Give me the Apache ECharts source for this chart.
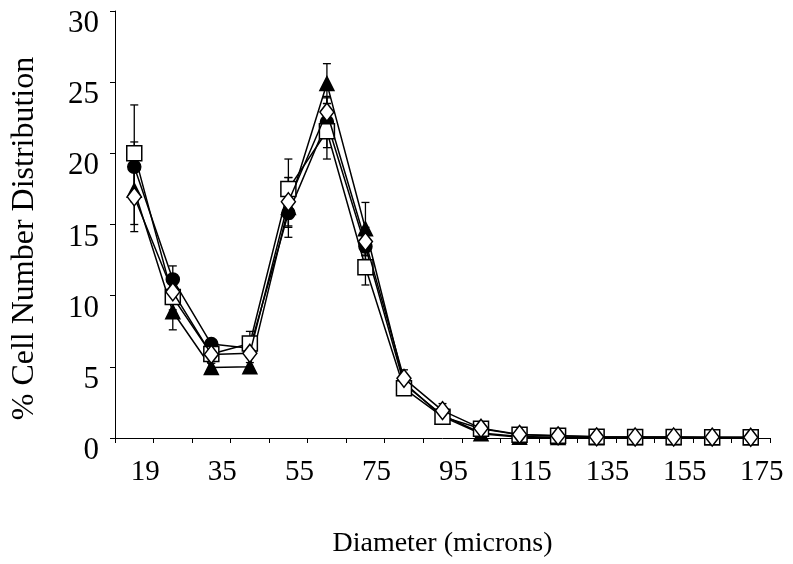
<!DOCTYPE html>
<html>
<head>
<meta charset="utf-8">
<script src="https://cdn.jsdelivr.net/npm/echarts@6/dist/echarts.min.js"></script>
<style>
  html, body { margin: 0; padding: 0; background: #fff; }
  #chart { width: 793px; height: 564px; }
</style>
</head>
<body>
<div id="chart"></div>
<script>
// Diameter classes (microns); every other one is labelled on the axis
const diameters = ['19', '27', '35', '45', '55', '65', '75', '85', '95', '105', '115', '125', '135', '145', '155', '165', '175'];

// % cell number distribution per group
const circleVals   = [19.05, 11.14, 6.6, 6.3, 15.8, 22.2, 13.45, 3.8, 1.6, 0.35, 0.1, 0.05, 0.03, 0.03, 0.02, 0.02, 0.02];
const triangleVals = [17.4, 8.87, 4.95, 5.0, 16.2, 24.9, 14.7, 3.9, 1.5, 0.3, 0.05, 0.03, 0.02, 0.02, 0.02, 0.02, 0.02];
const squareVals   = [20.0, 9.9, 5.9, 6.64, 17.5, 21.55, 12.0, 3.49, 1.5, 0.65, 0.22, 0.15, 0.08, 0.07, 0.07, 0.06, 0.05];
const diamondVals  = [16.95, 10.27, 5.87, 5.95, 16.6, 22.9, 13.8, 4.19, 1.92, 0.68, 0.25, 0.15, 0.08, 0.07, 0.07, 0.06, 0.05];

// symmetric error (± SD)
const circleErr   = [1.75, 0.95, 0.3, 0.3, 1.0, 1.8, 0.9, 0.3, 0.2, 0.1, 0, 0, 0, 0, 0, 0, 0];
const triangleErr = [2.4, 1.27, 0.3, 0.3, 2.1, 1.4, 1.85, 0.4, 0.2, 0.1, 0, 0, 0, 0, 0, 0, 0];
const squareErr   = [3.4, 0.9, 0.5, 0.85, 2.1, 1.95, 1.25, 0.4, 0.3, 0.1, 0, 0, 0, 0, 0, 0, 0];
const diamondErr  = [2.45, 0.8, 0.3, 0.3, 1.7, 1.0, 1.0, 0.6, 0.5, 0.1, 0, 0, 0, 0, 0, 0, 0];

// y axis ticks
const yMin = 0, yMax = 30, yStep = 5;

const FONT = 'Liberation Serif';

function errorSeries(vals, errs) {
  return {
    type: 'custom',
    z: 1,
    silent: true,
    data: vals.map((v, i) => [i, v, errs[i]]),
    renderItem: function (params, api) {
      const i = api.value(0), v = api.value(1), e = api.value(2);
      if (!e) return null;
      const top = api.coord([i, v + e]);
      const bot = api.coord([i, v - e]);
      const hw = 4;
      const st = { stroke: '#000', lineWidth: 1.3 };
      return {
        type: 'group',
        children: [
          { type: 'line', shape: { x1: top[0], y1: top[1], x2: bot[0], y2: bot[1] }, style: st },
          { type: 'line', shape: { x1: top[0] - hw, y1: top[1], x2: top[0] + hw, y2: top[1] }, style: st },
          { type: 'line', shape: { x1: bot[0] - hw, y1: bot[1], x2: bot[0] + hw, y2: bot[1] }, style: st }
        ]
      };
    }
  };
}

function lineSeries(name, vals, symbol, size, fill, z) {
  return {
    name: name,
    type: 'line',
    z: z,
    data: vals,
    symbol: symbol,
    symbolSize: size,
    showAllSymbol: true,
    lineStyle: { color: '#000', width: 1.5 },
    itemStyle: { color: fill, borderColor: '#000', borderWidth: 1.5 },
    emphasis: { disabled: true },
    animation: false
  };
}

const chart = echarts.init(document.getElementById('chart'));
chart.setOption({
  animation: false,
  backgroundColor: '#fff',
  grid: { left: 115, right: 23, top: 11, bottom: 126 },
  xAxis: {
    type: 'category',
    data: diameters,
    boundaryGap: true,
    name: 'Diameter (microns)',
    nameLocation: 'middle',
    nameGap: 92,
    nameTextStyle: { fontFamily: FONT, fontSize: 28, color: '#000' },
    axisLine: { lineStyle: { color: '#000', width: 1 } },
    axisTick: { show: true, interval: 0, length: 5, inside: false, lineStyle: { color: '#000' } },
    axisLabel: {
      interval: 1,
      fontFamily: FONT,
      fontSize: 29,
      color: '#000',
      margin: 20,
      padding: [0, 0, 0, 22]
    },
    splitLine: { show: false }
  },
  yAxis: {
    type: 'value',
    min: yMin,
    max: yMax,
    interval: yStep,
    name: '% Cell Number Distribution',
    nameLocation: 'middle',
    nameGap: 74,
    nameTextStyle: { fontFamily: FONT, fontSize: 32, color: '#000', padding: [0, 28, 0, 0] },
    axisLine: { show: true, lineStyle: { color: '#000', width: 1 } },
    axisTick: { show: true, length: 5, lineStyle: { color: '#000' } },
    axisLabel: {
      fontFamily: FONT,
      fontSize: 31,
      color: '#000',
      margin: 16,
      verticalAlign: 'top',
      lineHeight: 26
    },
    splitLine: { show: false }
  },
  series: [
    errorSeries(circleVals, circleErr),
    errorSeries(triangleVals, triangleErr),
    errorSeries(squareVals, squareErr),
    errorSeries(diamondVals, diamondErr),
    lineSeries('circle', circleVals, 'circle', 13, '#000', 2),
    lineSeries('triangle', triangleVals, 'triangle', 14, '#000', 3),
    lineSeries('square', squareVals, 'rect', 15, '#fff', 4),
    lineSeries('diamond', diamondVals, 'diamond', [14, 18], '#fff', 5)
  ]
});
</script>
</body>
</html>
